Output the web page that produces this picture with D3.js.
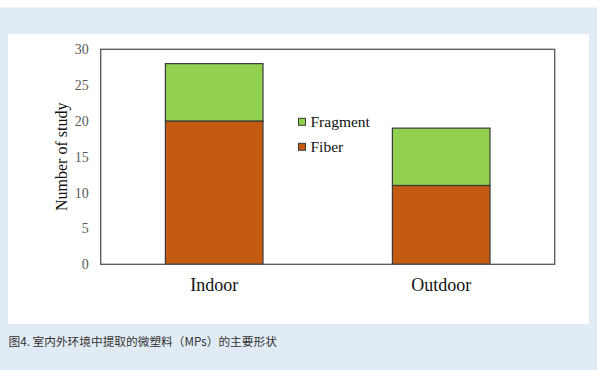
<!DOCTYPE html>
<html>
<head>
<meta charset="utf-8">
<script src="https://cdn.jsdelivr.net/npm/d3@7"></script>
<style>
  html, body { margin: 0; padding: 0; background: #fff; }
  svg { display: block; }
  .serif { font-family: "Liberation Serif", "DejaVu Serif", serif; }
</style>
</head>
<body>
<div id="chart"></div>
<script>
// 데이터
const categories = ["Indoor", "Outdoor"];
const seriesNames = ["Fiber", "Fragment"];
const fiberValues = [20, 11];
const fragmentValues = [8, 8];
const yTicks = [0, 5, 10, 15, 20, 25, 30];
const caption = "图4. 室内外环境中提取的微塑料（MPs）的主要形状";

const colors = { Fiber: "#c55a11", Fragment: "#92d050" };

const width = 600, height = 370;
const svg = d3.select("#chart").append("svg")
    .attr("width", width)
    .attr("height", height);

// 배경 (파란 테두리 + 흰 패널)
svg.append("rect").attr("x", 0).attr("y", 7.5).attr("width", 597).attr("height", height - 7.5).attr("fill", "#e1ebf5");
svg.append("rect").attr("x", 8).attr("y", 34).attr("width", 581).attr("height", 290).attr("fill", "#fff");

const plot = { left: 100.7, right: 554.7, top: 49.3, bottom: 264.3 };

const x = d3.scaleBand()
    .domain(categories)
    .range([plot.left, plot.right])
    .paddingInner(0.57)
    .paddingOuter(0.285);

const y = d3.scaleLinear()
    .domain([0, 30])
    .range([plot.bottom, plot.top]);

// 스택 데이터
const rows = categories.map((c, i) => ({ cat: c, Fiber: fiberValues[i], Fragment: fragmentValues[i] }));
const stacked = d3.stack().keys(seriesNames)(rows);

const g = svg.append("g");

g.selectAll("g.series")
    .data(stacked)
    .join("g")
    .attr("class", "series")
    .attr("fill", d => colors[d.key])
    .selectAll("rect")
    .data(d => d)
    .join("rect")
    .attr("x", d => x(d.data.cat))
    .attr("y", d => y(d[1]))
    .attr("width", x.bandwidth())
    .attr("height", d => y(d[0]) - y(d[1]))
    .attr("stroke", "#3a3a3a")
    .attr("stroke-width", 1.2);

// 프레임
g.append("rect")
    .attr("x", plot.left).attr("y", plot.top)
    .attr("width", plot.right - plot.left).attr("height", plot.bottom - plot.top)
    .attr("fill", "none")
    .attr("stroke", "#555")
    .attr("stroke-width", 1.3);

// Y축
const yAxis = d3.axisLeft(y).tickValues(yTicks).tickSize(0).tickPadding(12);
const ya = g.append("g").attr("transform", `translate(${plot.left},0)`).call(yAxis);
ya.select(".domain").remove();
ya.attr("font-family", null);
ya.selectAll("text")
    .attr("class", "serif")
    .attr("font-size", 14)
    .attr("fill", "#595959");

// X축
const xAxis = d3.axisBottom(x).tickSize(0).tickPadding(14);
const xa = g.append("g").attr("transform", `translate(0,${plot.bottom})`).call(xAxis);
xa.select(".domain").remove();
xa.attr("font-family", null);
xa.selectAll("text")
    .attr("class", "serif")
    .attr("font-size", 18)
    .attr("fill", "#111");

// Y축 제목
g.append("text")
    .attr("class", "serif")
    .attr("transform", `translate(67,${(plot.top + plot.bottom) / 2}) rotate(-90)`)
    .attr("text-anchor", "middle")
    .attr("font-size", 16)
    .attr("fill", "#111")
    .text("Number of study");

// 범례
const legend = g.append("g").attr("transform", "translate(298,0)");
const legendItems = [
    { key: "Fragment", y: 121.8 },
    { key: "Fiber", y: 146.8 }
];
const li = legend.selectAll("g").data(legendItems).join("g")
    .attr("transform", d => `translate(0,${d.y})`);
li.append("rect")
    .attr("x", 0.5).attr("y", -3.5)
    .attr("width", 7).attr("height", 7)
    .attr("fill", d => colors[d.key])
    .attr("stroke", "#3a3a3a")
    .attr("stroke-width", 1);
li.append("text")
    .attr("class", "serif")
    .attr("x", 12.5).attr("dy", "0.33em")
    .attr("font-size", 15.5)
    .attr("fill", "#111")
    .text(d => d.key);

// 캡션
svg.append("text")
    .attr("x", 8.5).attr("y", 346)
    .attr("font-family", "'Noto Sans CJK SC', 'Noto Sans', sans-serif")
    .attr("font-size", 11.7)
    .attr("fill", "#333")
    .text(caption);
</script>
</body>
</html>
